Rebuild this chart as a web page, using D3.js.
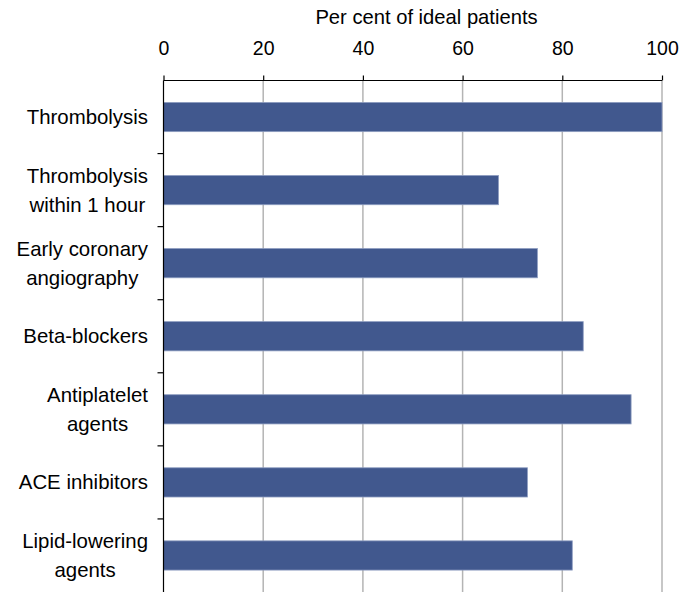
<!DOCTYPE html>
<html><head><meta charset="utf-8">
<script src="https://cdn.jsdelivr.net/npm/d3@7/dist/d3.min.js"></script>
<style>body{margin:0;background:#fff}svg{display:block}text{font-family:"Liberation Sans",Arial,sans-serif;fill:#000}</style>
</head><body>
<svg id="c" width="679" height="592"></svg>
<script>
const categories = ["Thrombolysis", "Thrombolysis\nwithin 1 hour", "Early coronary\nangiography", "Beta-blockers", "Antiplatelet\nagents", "ACE inhibitors", "Lipid-lowering\nagents"];
const values = [100, 67.2, 75, 84.2, 93.8, 73, 82];
const xTicks = [0, 20, 40, 60, 80, 100];
const xTitle = "Per cent of ideal patients";

(function () {
const svg = d3.select("#c");
const mLeft = 163.5, mRight = 662, mTop = 80.5, mBottom = 592;
const x = d3.scaleLinear().domain([0, 100]).range([mLeft, mRight]);
const y = d3.scaleBand().domain(categories).range([mTop, mBottom]).paddingInner(0.6).paddingOuter(0.3);

// gridlines
svg.append("g").selectAll("line").data(xTicks.slice(1)).join("line")
  .attr("x1", d => x(d)).attr("x2", d => x(d)).attr("y1", mTop).attr("y2", mBottom)
  .attr("stroke", "#b4b4b4").attr("stroke-width", 1.5);

// bars
svg.append("g").selectAll("rect").data(categories).join("rect")
  .attr("x", x(0)).attr("y", d => y(d)).attr("height", y.bandwidth())
  .attr("width", (d, i) => x(values[i]) - x(0))
  .attr("fill", "#41588e").attr("stroke", "#8d9cc0").attr("stroke-width", 0.8);

// top axis
const xa = svg.append("g").attr("transform", `translate(0,${mTop})`)
  .call(d3.axisTop(x).tickValues(xTicks).tickSize(5).tickPadding(20.5).tickFormat(d3.format("d")));
xa.select(".domain").attr("stroke", "#000").attr("stroke-width", 1.2).attr("d", `M${mLeft},0H${mRight}`);
xa.selectAll(".tick line").attr("stroke", "#000").attr("stroke-width", 1.2);
xa.selectAll(".tick text").attr("font-size", 19.5).attr("font-family", "Liberation Sans, Arial, sans-serif").attr("fill", "#000");

svg.append("text").attr("x", 426.5).attr("y", 24).attr("text-anchor", "middle")
  .attr("font-size", 20.2).text(xTitle);

// left axis line & category boundary ticks
svg.append("line").attr("x1", mLeft).attr("x2", mLeft).attr("y1", mTop).attr("y2", mBottom)
  .attr("stroke", "#000").attr("stroke-width", 1.2);
const bounds = d3.range(1, categories.length).map(i => mTop + i * (mBottom - mTop) / categories.length);
svg.append("g").selectAll("line").data(bounds).join("line")
  .attr("x1", mLeft - 6).attr("x2", mLeft).attr("y1", d => d).attr("y2", d => d)
  .attr("stroke", "#000").attr("stroke-width", 1.2);

// category labels: block right-aligned, lines centered in block
const labelRight = 148;
categories.forEach(c => {
  const lines = c.split("\n");
  const cy = y(c) + y.bandwidth() / 2;
  const g = svg.append("g");
  const ts = lines.map((l, i) => g.append("text").attr("font-size", 20.4)
    .attr("y", cy + (i - (lines.length - 1) / 2) * 29 + 7).text(l));
  const w = d3.max(ts, t => t.node().getComputedTextLength());
  ts.forEach(t => t.attr("x", labelRight - w / 2).attr("text-anchor", "middle"));
});
})();
</script>
</body></html>
